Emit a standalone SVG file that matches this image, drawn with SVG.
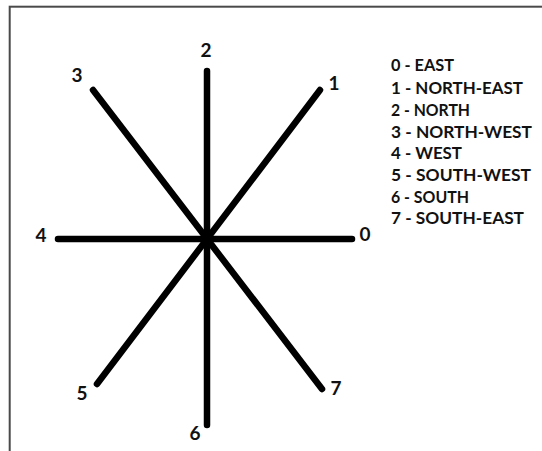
<svg xmlns="http://www.w3.org/2000/svg" width="542" height="451" viewBox="0 0 542 451">
<style>
.ray{stroke:#000;stroke-width:6.5;stroke-linecap:round;fill:none}
.num{font-family:Lato,"Open Sans","Liberation Sans",sans-serif;font-weight:bold;font-size:19px;fill:#111;text-anchor:middle}
.leg{font-family:Lato,"Open Sans","Liberation Sans",sans-serif;font-weight:bold;font-size:17px;fill:#111}
</style>
<rect x="0" y="0" width="542" height="451" fill="#fff"/>
<rect x="9.7" y="6.7" width="700" height="700" fill="none" stroke="#4a4a4a" stroke-width="2"/>
<g id="connectors">
<line class="ray" x1="207" y1="71" x2="207" y2="425"/>
<line class="ray" x1="58" y1="239" x2="352" y2="239"/>
<line class="ray" x1="93" y1="90" x2="322" y2="389"/>
<line class="ray" x1="320" y1="90" x2="97" y2="384"/>
</g>
<g id="label-2"><text class="num" x="206" y="57">2</text></g>
<g id="label-3"><text class="num" x="77" y="82">3</text></g>
<g id="label-1"><text class="num" x="334" y="90">1</text></g>
<g id="label-4"><text class="num" x="41" y="242">4</text></g>
<g id="label-0"><text class="num" x="365" y="241">0</text></g>
<g id="label-5"><text class="num" x="82" y="400">5</text></g>
<g id="label-7"><text class="num" x="336" y="395">7</text></g>
<g id="label-6"><text class="num" x="195" y="440">6</text></g>
<g id="legend">
<text class="leg" x="391" y="71" textLength="63" lengthAdjust="spacingAndGlyphs">0 - EAST</text>
<text class="leg" x="391" y="94" textLength="132" lengthAdjust="spacingAndGlyphs">1 - NORTH-EAST</text>
<text class="leg" x="391" y="116" textLength="79" lengthAdjust="spacingAndGlyphs">2 - NORTH</text>
<text class="leg" x="391" y="137.5" textLength="141" lengthAdjust="spacingAndGlyphs">3 - NORTH-WEST</text>
<text class="leg" x="391" y="159" textLength="71" lengthAdjust="spacingAndGlyphs">4 - WEST</text>
<text class="leg" x="391" y="181" textLength="140" lengthAdjust="spacingAndGlyphs">5 - SOUTH-WEST</text>
<text class="leg" x="391" y="202.5" textLength="78" lengthAdjust="spacingAndGlyphs">6 - SOUTH</text>
<text class="leg" x="391" y="224" textLength="133" lengthAdjust="spacingAndGlyphs">7 - SOUTH-EAST</text>
</g>
</svg>
